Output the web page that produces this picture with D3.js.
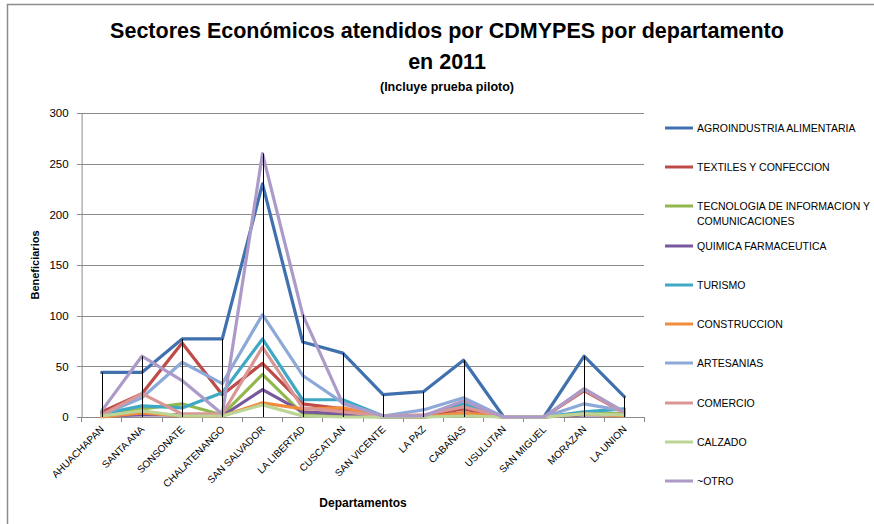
<!DOCTYPE html>
<html>
<head>
<meta charset="utf-8">
<script src="https://cdn.jsdelivr.net/npm/d3@7"></script>
<style>
  body { margin: 0; background: #fff; }
  svg { display: block; font-family: "Liberation Sans", Arial, sans-serif; }
</style>
</head>
<body>
<svg width="874" height="524"></svg>
<script>
const departamentos = ['AHUACHAPAN', 'SANTA ANA', 'SONSONATE', 'CHALATENANGO', 'SAN SALVADOR',
  'LA LIBERTAD', 'CUSCATLAN', 'SAN VICENTE', 'LA PAZ', 'CABAÑAS', 'USULUTAN', 'SAN MIGUEL',
  'MORAZAN', 'LA UNION']

const sectores = ['AGROINDUSTRIA ALIMENTARIA', 'TEXTILES Y CONFECCION',
  'TECNOLOGIA DE INFORMACION Y COMUNICACIONES', 'QUIMICA FARMACEUTICA', 'TURISMO',
  'CONSTRUCCION', 'ARTESANIAS', 'COMERCIO', 'CALZADO', '~OTRO']

const agroindustria = [44, 44, 77, 77, 230, 74, 63, 22, 25, 56, 0, 0, 60, 20]
const textiles = [5, 23, 73, 22, 53, 13, 8, 1, 1, 8, 0, 0, 26, 4]
const tecnologia = [1, 8, 13, 2, 42, 3, 1, 0, 0, 2, 0, 0, 4, 3]
const quimica = [1, 2, 2, 1, 27, 5, 3, 0, 0, 4, 0, 0, 2, 2]
const turismo = [3, 11, 9, 24, 77, 17, 17, 1, 1, 13, 0, 0, 5, 8]
const construccion = [0, 4, 1, 1, 14, 8, 9, 1, 0, 4, 0, 0, 3, 1]
const artesanias = [2, 19, 54, 33, 101, 41, 14, 1, 7, 19, 0, 0, 13, 6]
const comercio = [2, 23, 3, 3, 69, 9, 5, 1, 2, 10, 0, 0, 27, 4]
const calzado = [1, 6, 1, 1, 12, 1, 0, 0, 0, 1, 0, 0, 3, 2]
const otro = [6, 60, 36, 3, 260, 101, 13, 1, 1, 16, 0, 0, 28, 5]

const yTicks = [0, 50, 100, 150, 200, 250, 300]

const colores = ['#4070ad', '#be4b48', '#93b74f', '#77589c', '#3fa8c4',
  '#f08c3c', '#8ca9d8', '#d99694', '#bcd495', '#ac9bc8']

const valores = [agroindustria, textiles, tecnologia, quimica, turismo,
  construccion, artesanias, comercio, calzado, otro]

const series = sectores.map((name, i) => ({
  name,
  color: colores[i],
  values: valores[i].map((v, j) => ({ dep: departamentos[j], v }))
}))

const dim = { left: 81.6, right: 644.4, top: 113, bottom: 417 }
const svg = d3.select('svg')

// chart frame
svg.append('rect')
  .attr('x', 7.5).attr('y', 4.5)
  .attr('width', 880).attr('height', 540)
  .attr('fill', 'none').attr('stroke', '#8c8c8c').attr('stroke-width', 1.5)

const x = d3.scaleBand().domain(departamentos).range([dim.left, dim.right])
const xc = (d) => x(d) + x.bandwidth() / 2
const y = d3.scaleLinear().domain([0, 300]).range([dim.bottom, dim.top])

// grid
svg.append('g')
  .attr('transform', `translate(${dim.left},0)`)
  .call(d3.axisLeft(y).tickValues(yTicks).tickSize(-(dim.right - dim.left)).tickFormat(''))
  .call((g) => g.select('.domain').remove())
  .call((g) => g.selectAll('line').attr('stroke', '#8a8a8a').attr('shape-rendering', 'crispEdges'))

// y axis
svg.append('g')
  .attr('transform', `translate(${dim.left},0)`)
  .call(d3.axisLeft(y).tickValues(yTicks).tickSize(5).tickPadding(8).tickSizeOuter(0))
  .call((g) => g.select('.domain').attr('stroke', '#8a8a8a'))
  .call((g) => g.selectAll('line').attr('stroke', '#8a8a8a').attr('shape-rendering', 'crispEdges'))
  .call((g) => g.selectAll('text').attr('font-size', 11.5).attr('fill', '#000')
    .attr('font-family', '"Liberation Sans", Arial, sans-serif'))

// x axis
const xAxis = svg.append('g')
  .attr('transform', `translate(0,${dim.bottom})`)
  .call(d3.axisBottom(x).tickSize(0).tickPadding(0))
xAxis.select('.domain').attr('stroke', '#8a8a8a').attr('shape-rendering', 'crispEdges')
xAxis.selectAll('text')
  .attr('font-size', 10).attr('fill', '#000')
  .attr('font-family', '"Liberation Sans", Arial, sans-serif')
  .attr('text-anchor', 'end')
  .attr('dy', 0)
  .attr('transform', 'translate(3,13) rotate(-45)')

// boundary ticks between categories
svg.append('g').selectAll('line')
  .data(d3.range(departamentos.length + 1))
  .join('line')
  .attr('x1', (i) => dim.left + i * x.bandwidth())
  .attr('x2', (i) => dim.left + i * x.bandwidth())
  .attr('y1', dim.bottom).attr('y2', dim.bottom + 5)
  .attr('stroke', '#8a8a8a').attr('shape-rendering', 'crispEdges')

// series lines
const line = d3.line()
  .x((d) => xc(d.dep))
  .y((d) => y(d.v))

svg.append('g').selectAll('path')
  .data(series)
  .join('path')
  .attr('d', (s) => line(s.values))
  .attr('fill', 'none')
  .attr('stroke', (s) => s.color)
  .attr('stroke-width', 3.2)
  .attr('stroke-linejoin', 'round')
  .attr('stroke-linecap', 'round')

// drop lines
const maxima = departamentos.map((dep, j) => ({ dep, max: d3.max(valores, (vals) => vals[j]) }))
svg.append('g').selectAll('line')
  .data(maxima)
  .join('line')
  .attr('x1', (d) => Math.round(xc(d.dep)) + 0.5)
  .attr('x2', (d) => Math.round(xc(d.dep)) + 0.5)
  .attr('y1', (d) => y(d.max))
  .attr('y2', dim.bottom)
  .attr('stroke', '#000').attr('stroke-width', 1)

// titles
svg.append('text')
  .attr('x', 447).attr('y', 38)
  .attr('text-anchor', 'middle').attr('font-weight', 'bold').attr('font-size', 21.5)
  .text('Sectores Económicos atendidos por CDMYPES por departamento')
svg.append('text')
  .attr('x', 447).attr('y', 69)
  .attr('text-anchor', 'middle').attr('font-weight', 'bold').attr('font-size', 21.5)
  .text('en 2011')
svg.append('text')
  .attr('x', 447).attr('y', 91)
  .attr('text-anchor', 'middle').attr('font-weight', 'bold').attr('font-size', 12.5)
  .text('(Incluye prueba piloto)')

svg.append('text')
  .attr('transform', `translate(39,${(dim.top + dim.bottom) / 2}) rotate(-90)`)
  .attr('text-anchor', 'middle').attr('font-weight', 'bold').attr('font-size', 11)
  .text('Beneficiarios')
svg.append('text')
  .attr('x', (dim.left + dim.right) / 2).attr('y', 507)
  .attr('text-anchor', 'middle').attr('font-weight', 'bold').attr('font-size', 12)
  .text('Departamentos')

// legend
const legendY = [128, 167, 206, 246, 285, 324, 363, 403, 442, 481]
const legend = svg.append('g').selectAll('g')
  .data(series)
  .join('g')
  .attr('transform', (s, i) => `translate(665,${legendY[i]})`)
legend.append('line')
  .attr('x1', 0).attr('x2', 28)
  .attr('stroke', (s) => s.color).attr('stroke-width', 3)
legend.append('text')
  .attr('x', 32).attr('dy', '0.35em')
  .attr('font-size', 10.5)
  .each(function (s) {
    const t = d3.select(this)
    if (s.name.startsWith('TECNOLOGIA')) {
      t.append('tspan').attr('x', 32).text('TECNOLOGIA DE INFORMACION Y')
      t.append('tspan').attr('x', 32).attr('dy', '1.45em').text('COMUNICACIONES')
    } else {
      t.text(s.name)
    }
  })
</script>
</body>
</html>
